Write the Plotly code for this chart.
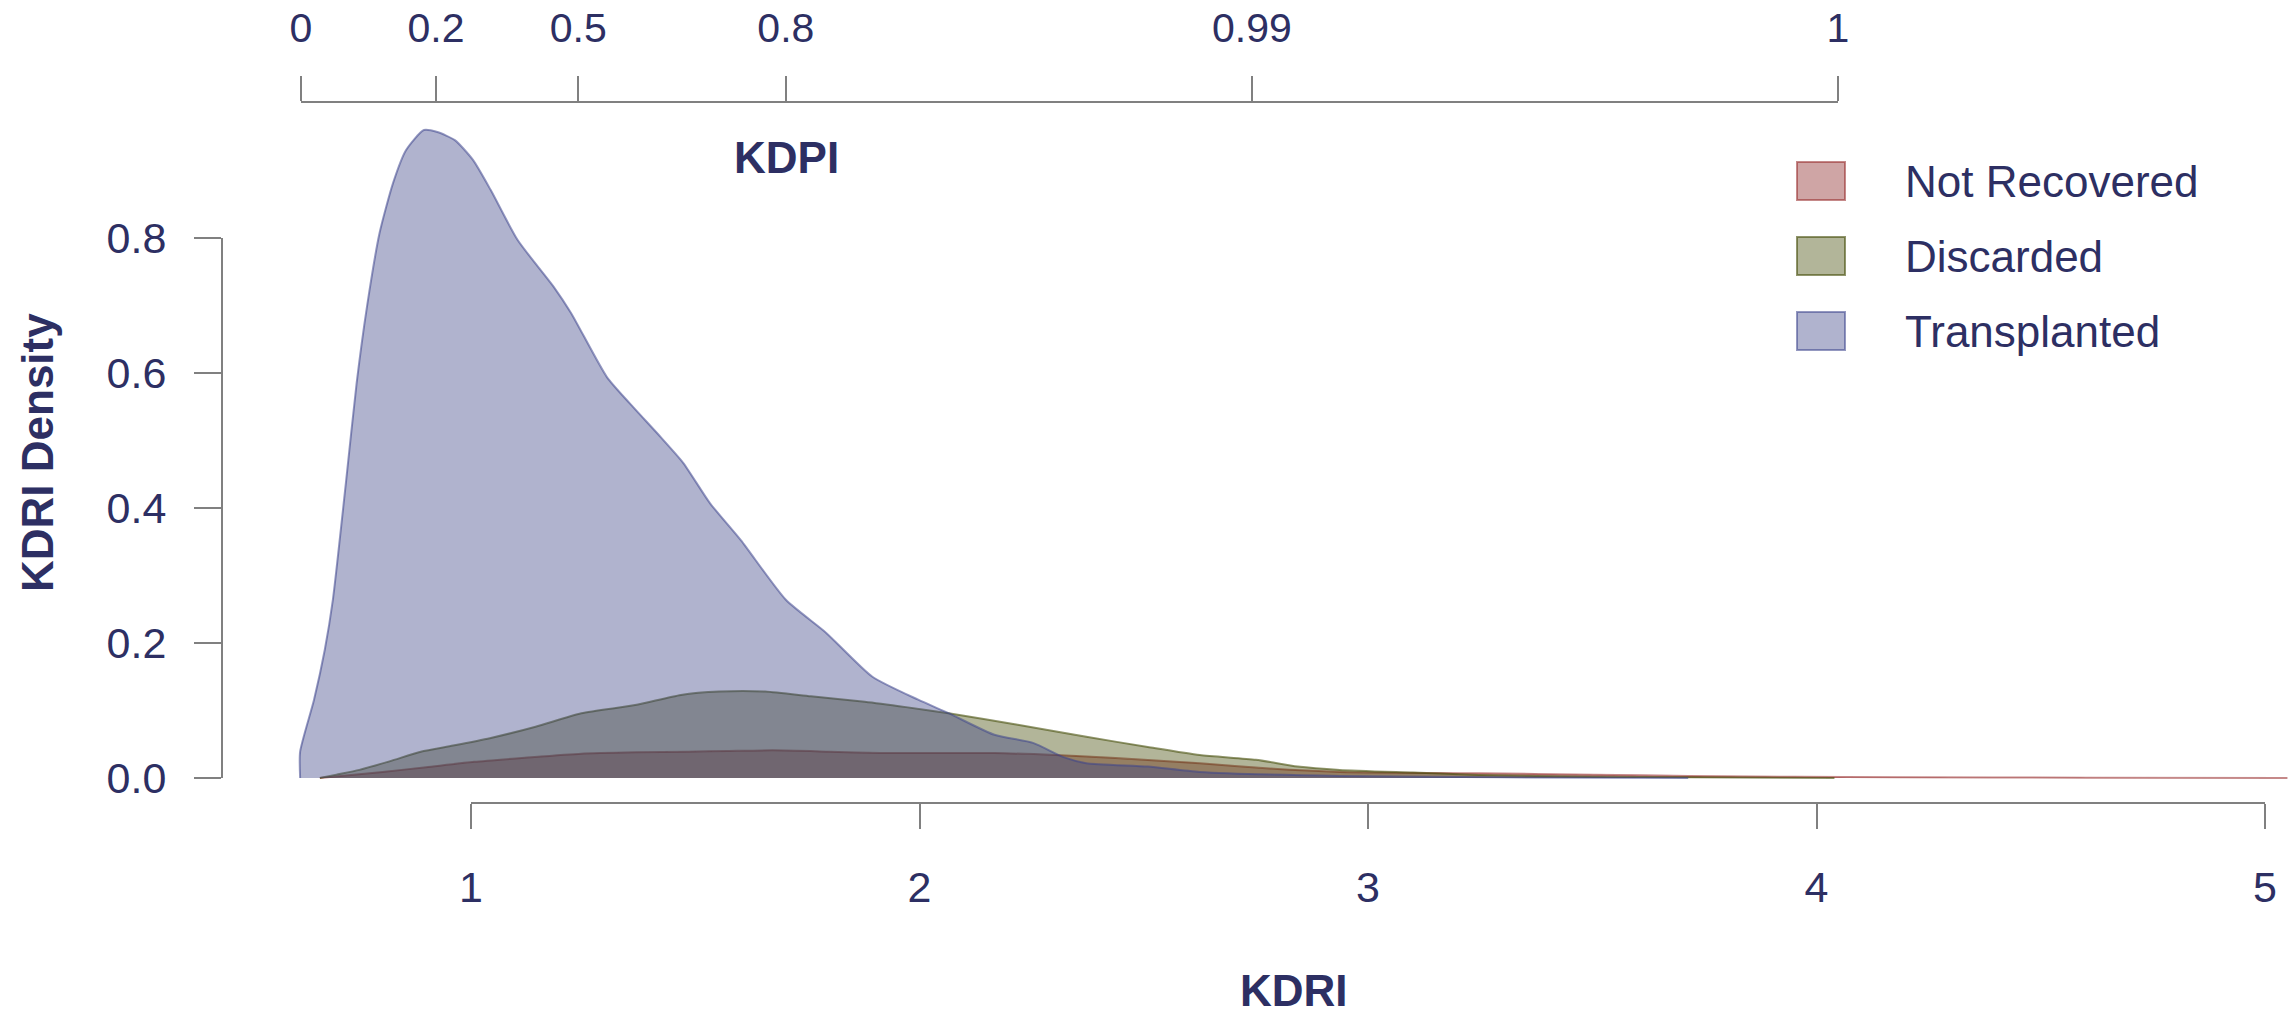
import plotly.graph_objects as go

# ---------------- data ----------------
series_names = ["Not Recovered", "Discarded", "Transplanted"]

nr_kdri = [0.663, 0.803, 0.90, 1.007, 1.12, 1.246, 1.37, 1.484, 1.573, 1.673, 1.80, 1.912,
           2.05, 2.167, 2.304, 2.372, 2.50, 2.625, 2.78, 2.937, 3.247, 3.50, 3.714, 4.18, 4.60, 5.05]
nr_dens = [0.0, 0.009, 0.016, 0.024, 0.030, 0.036, 0.038, 0.039, 0.040, 0.041, 0.039, 0.037,
           0.037, 0.037, 0.034, 0.032, 0.027, 0.022, 0.014, 0.009, 0.007, 0.005, 0.003, 0.001, 0.0005, 0.0]

disc_kdri = [0.663, 0.70, 0.751, 0.82, 0.888, 0.96, 1.042, 1.144, 1.246, 1.366, 1.468, 1.553,
             1.656, 1.758, 1.878, 1.97, 2.065, 2.219, 2.372, 2.509, 2.625, 2.75, 2.843, 2.937,
             3.10, 3.247, 3.50, 3.714, 4.04]
disc_dens = [0.0, 0.005, 0.012, 0.025, 0.039, 0.048, 0.059, 0.076, 0.096, 0.108, 0.123, 0.128,
             0.128, 0.121, 0.113, 0.105, 0.096, 0.079, 0.061, 0.046, 0.034, 0.027, 0.017, 0.012,
             0.008, 0.0045, 0.002, 0.001, 0.0]

tx_kdri = [0.619, 0.619, 0.650, 0.674, 0.692, 0.721, 0.745, 0.768, 0.796, 0.826, 0.855, 0.895,
           0.925, 0.964, 1.004, 1.044, 1.104, 1.184, 1.223, 1.303, 1.354, 1.423, 1.473, 1.533,
           1.602, 1.702, 1.792, 1.895, 1.997, 2.065, 2.167, 2.253, 2.321, 2.372, 2.509, 2.625,
           2.937, 3.30, 3.714]
tx_dens = [0.0, 0.039, 0.116, 0.190, 0.264, 0.437, 0.585, 0.698, 0.807, 0.881, 0.930, 0.960,
           0.957, 0.945, 0.916, 0.871, 0.797, 0.728, 0.689, 0.594, 0.555, 0.505, 0.467, 0.407,
           0.352, 0.264, 0.215, 0.150, 0.116, 0.096, 0.064, 0.052, 0.031, 0.022, 0.017, 0.009,
           0.003, 0.001, 0.0]

y_ticks = [0.0, 0.2, 0.4, 0.6, 0.8]
kdri_ticks = [1, 2, 3, 4, 5]
kdpi_tick_pos = [0.621, 0.922, 1.239, 1.702, 2.741, 4.048]   # KDRI value matching each KDPI
kdpi_tick_text = ["0", "0.2", "0.5", "0.8", "0.99", "1"]

# ---------------- styling / geometry ----------------
W, H = 2294, 1016
PX0, PXU = 22.5, 448.5     # pixel of KDRI=0, pixels per KDRI unit
PY0, PYU = 778.0, 675.0    # pixel of density 0, pixels per density unit

def xfrac(k):
    return (PX0 + PXU * k) / W

def yfrac(d):
    return 1 - (PY0 - PYU * d) / H

TXT = "#2d2f63"
AX = "#808080"
FONT = "Liberation Sans, Arial, sans-serif"

fills = ["rgba(135,30,30,0.40)", "rgba(62,70,0,0.40)", "rgba(58,65,133,0.40)"]
lines = ["rgba(150,40,40,0.55)", "rgba(70,78,10,0.60)", "rgba(60,68,140,0.55)"]

fig = go.Figure()
for name, xs, ys, fc, lc in zip(series_names,
                                [nr_kdri, disc_kdri, tx_kdri],
                                [nr_dens, disc_dens, tx_dens], fills, lines):
    fig.add_trace(go.Scatter(x=xs, y=ys, mode="lines", fill="tozeroy", name=name,
                             fillcolor=fc, line=dict(color=lc, width=2, shape="spline", smoothing=0.6),
                             showlegend=False, hoverinfo="skip"))

# dummy traces to carry the display axes
fig.add_trace(go.Scatter(x=[1] * len(y_ticks), y=y_ticks, xaxis="x", yaxis="y2", mode="markers",
                         marker=dict(opacity=0), showlegend=False, hoverinfo="skip"))
fig.add_trace(go.Scatter(x=kdri_ticks, y=[0] * len(kdri_ticks), xaxis="x2", yaxis="y", mode="markers",
                         marker=dict(opacity=0), showlegend=False, hoverinfo="skip"))
fig.add_trace(go.Scatter(x=kdpi_tick_pos, y=[0] * len(kdpi_tick_pos), xaxis="x3", yaxis="y", mode="markers",
                         marker=dict(opacity=0), showlegend=False, hoverinfo="skip"))

tickfont = dict(family=FONT, size=43, color=TXT)
topfont = dict(family=FONT, size=41, color=TXT)

fig.update_layout(
    width=W, height=H, autosize=False,
    margin=dict(l=0, r=0, t=0, b=0, pad=0, autoexpand=False),
    paper_bgcolor="white", plot_bgcolor="rgba(0,0,0,0)",
    showlegend=False,
    xaxis=dict(domain=[0, 1], range=[-PX0 / PXU, (W - PX0) / PXU], visible=False, fixedrange=True),
    yaxis=dict(domain=[0, 1], range=[(PY0 - H) / PYU, PY0 / PYU], visible=False, fixedrange=True),
    yaxis2=dict(domain=[yfrac(0), yfrac(0.8)], range=[0, 0.8], anchor="free", position=222 / W,
                side="left", showline=True, linecolor=AX, linewidth=2, ticks="outside", ticklen=27,
                tickwidth=2, tickcolor=AX, tickvals=y_ticks, tickformat=".1f", showgrid=False,
                zeroline=False, tickfont=tickfont, ticklabelstandoff=19),
    xaxis2=dict(domain=[xfrac(kdri_ticks[0]), xfrac(kdri_ticks[-1])], range=[kdri_ticks[0], kdri_ticks[-1]],
                anchor="free", position=1 - 803 / H, side="bottom", showline=True, linecolor=AX,
                linewidth=2, ticks="outside", ticklen=25, tickwidth=2, tickcolor=AX, tickvals=kdri_ticks,
                showgrid=False, zeroline=False, tickfont=tickfont, ticklabelstandoff=21),
    xaxis3=dict(domain=[xfrac(kdpi_tick_pos[0]), xfrac(kdpi_tick_pos[-1])],
                range=[kdpi_tick_pos[0], kdpi_tick_pos[-1]], anchor="free", position=1 - 102 / H,
                side="top", showline=True, linecolor=AX, linewidth=2, ticks="outside", ticklen=25,
                tickwidth=2, tickcolor=AX, tickvals=kdpi_tick_pos, ticktext=kdpi_tick_text,
                showgrid=False, zeroline=False, tickfont=topfont, ticklabelstandoff=18),
)

title_font = dict(family=FONT, size=44, color=TXT)
annotations = [
    dict(text="<b>KDRI Density</b>", x=37 / W, y=1 - 453 / H, xref="paper", yref="paper",
         textangle=-90, showarrow=False, font=title_font, xanchor="center", yanchor="middle"),
    dict(text="<b>KDPI</b>", x=786 / W, y=1 - 158 / H, xref="paper", yref="paper",
         showarrow=False, font=title_font, xanchor="center", yanchor="middle"),
    dict(text="<b>KDRI</b>", x=1294 / W, y=0, xref="paper", yref="paper", borderpad=0,
         showarrow=False, font=title_font, xanchor="center", yanchor="bottom"),
]

# manual legend
leg_rows_y = [181, 256, 331]
shapes = []
for name, fc, lc, yc in zip(series_names, fills, lines, leg_rows_y):
    shapes.append(dict(type="rect", xref="paper", yref="paper",
                       x0=1797 / W, x1=1845 / W, y0=1 - (yc + 19) / H, y1=1 - (yc - 19) / H,
                       fillcolor=fc, line=dict(color=lc, width=2)))
    annotations.append(dict(text=name, x=1903 / W, y=1 - yc / H, xref="paper", yref="paper",
                            showarrow=False, xanchor="left", yanchor="middle",
                            font=dict(family=FONT, size=44, color=TXT)))

fig.update_layout(annotations=annotations, shapes=shapes)
fig.write_html("out.html")
